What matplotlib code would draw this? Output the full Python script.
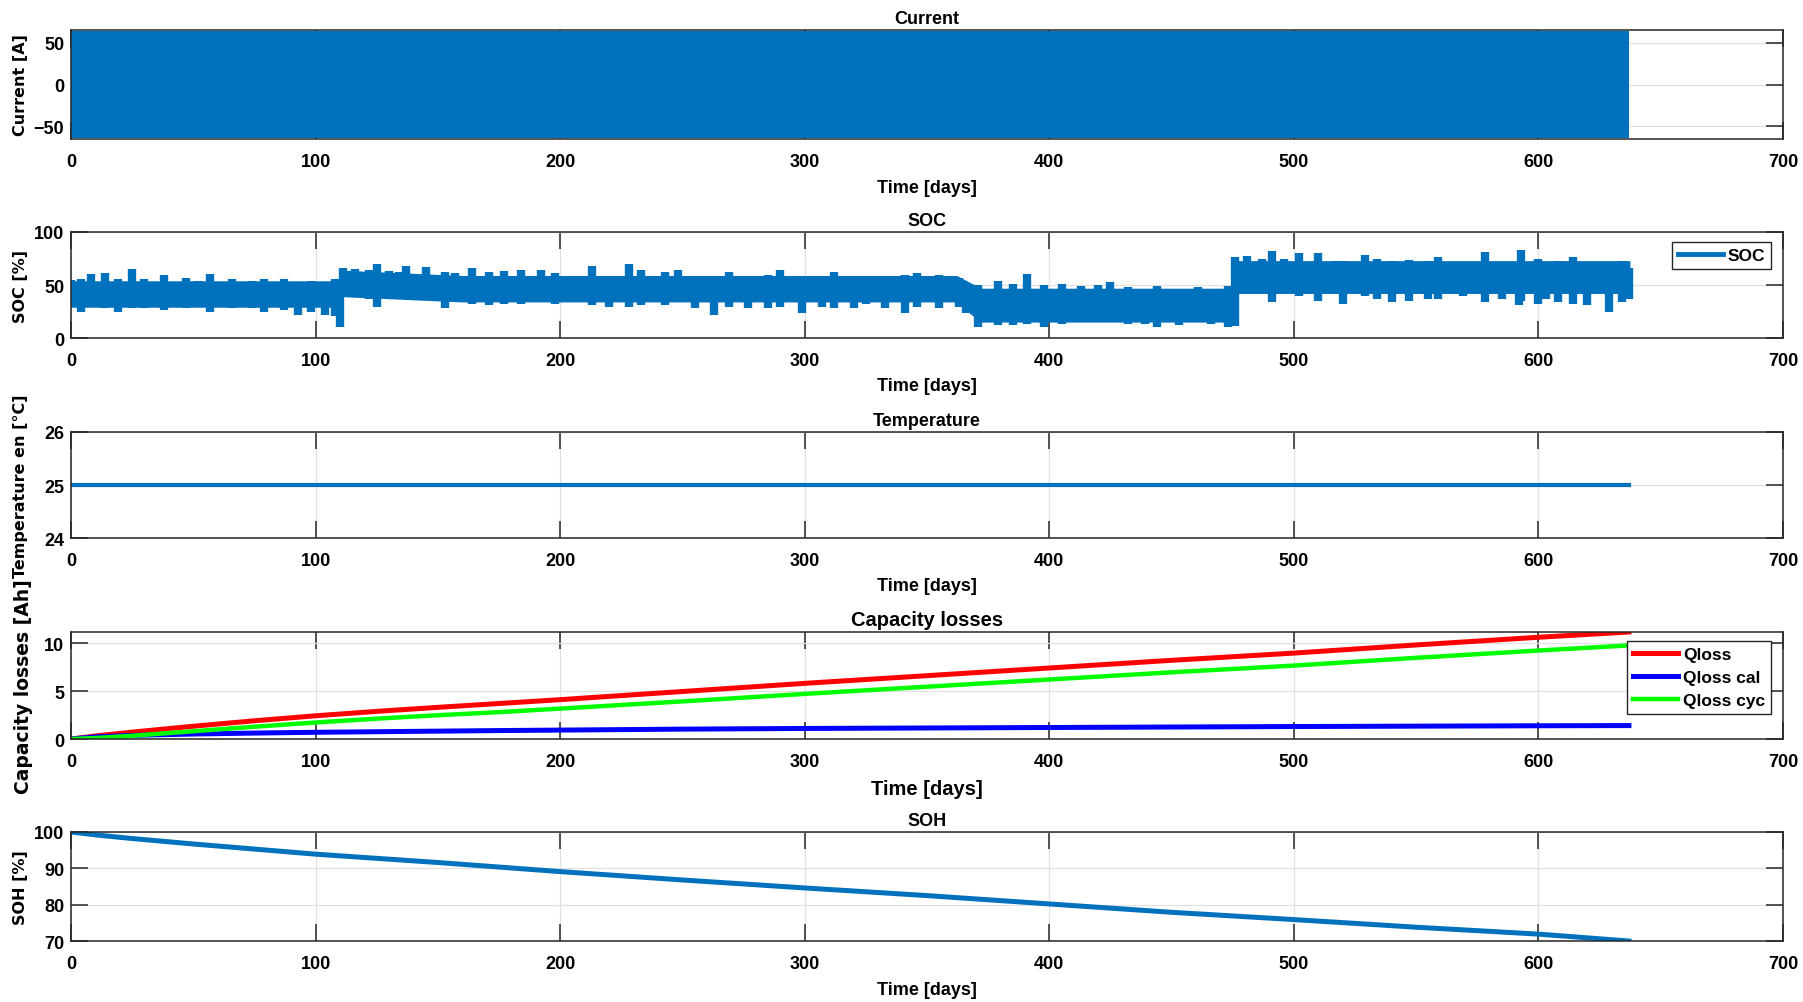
"""Battery ageing simulation: current, SOC, temperature, capacity losses and SOH."""
import matplotlib
matplotlib.use("Agg")
import matplotlib.pyplot as plt
from matplotlib.lines import Line2D

BLUE = "#0072BD"
DARK = "#262626"
GRID = "#e0e0e0"
TICK_FONT = "Liberation Sans"
LABEL_FONT = "DejaVu Sans"

# ── Data ─────────────────────────────────────────────────────────────
cur_days = [0, 637]
cur_max = [64, 64]
cur_min = [-64, -64]

# SOC: the typical band ("body") per regime, and the extremes at sampled days
soc_body_days = [0, 110, 110.6, 160, 362, 372, 475.5, 476, 637]
soc_body_top = [53, 53, 63, 58, 58, 46, 46, 72, 72]
soc_body_bot = [30, 30, 40, 35, 35, 16, 16, 43, 43]

soc_days = [0, 4, 8, 14, 19, 25, 30, 38, 47, 52, 57, 66, 74, 79, 87, 93, 98, 104, 108,
            110, 111, 116, 122, 125, 130, 134, 137, 145, 153, 157, 164, 171, 177, 184,
            192, 198, 206, 213, 220, 228, 233, 243, 248, 255, 263, 269, 277, 285, 290,
            299, 307, 312, 320, 325, 333, 341, 346, 355, 363, 366, 371, 379, 385, 391,
            398, 405, 413, 420, 425, 432, 439, 444, 453, 461, 466, 473, 476, 481, 487,
            491, 496, 502, 510, 517, 520, 529, 534, 540, 547, 555, 559, 569, 578, 585,
            592, 593, 600, 603, 608, 614, 620, 629, 634, 637]
soc_upper = [55, 56, 60, 61, 56, 65, 56, 59, 57, 54, 60, 56, 54, 56, 56, 53, 54, 51, 56,
             51, 66, 65, 64, 70, 63, 62, 68, 67, 62, 61, 66, 62, 63, 64,
             64, 61, 58, 68, 57, 70, 64, 62, 64, 57, 56, 62, 57, 59, 64,
             57, 57, 62, 57, 56, 57, 59, 61, 59, 57, 50, 50, 54, 51, 60,
             50, 51, 49, 50, 53, 48, 46, 49, 46, 48, 46, 49, 76, 77, 75,
             82, 75, 80, 80, 73, 73, 78, 75, 73, 74, 73, 76, 72, 81, 67,
             70, 83, 75, 65, 73, 76, 69, 67, 73, 66]
soc_lower = [37, 25, 29, 28, 25, 28, 28, 26, 28, 29, 25, 28, 28, 25, 26, 22, 25, 22, 21,
             10, 40, 39, 37, 29, 38, 37, 39, 37, 28, 37, 32, 31, 32, 32,
             34, 32, 34, 31, 29, 29, 31, 31, 34, 28, 22, 29, 28, 28, 29,
             24, 29, 28, 28, 32, 28, 24, 29, 28, 29, 24, 10, 12, 12, 13,
             10, 13, 15, 15, 17, 13, 13, 10, 12, 15, 13, 10, 11, 43, 43,
             34, 42, 40, 35, 43, 32, 40, 37, 34, 35, 37, 37, 40, 34, 37,
             31, 35, 32, 37, 34, 32, 31, 25, 34, 37]

temp_days = [0, 637]
temp = [25, 25]

cap_days = [0, 10, 25, 50, 75, 100, 125, 150, 175, 200, 250, 300, 350, 400, 450, 500,
            550, 600, 637]
qloss = [0, 0.32, 0.72, 1.33, 1.9, 2.42, 2.88, 3.3, 3.7, 4.1, 4.95, 5.8, 6.6, 7.4, 8.2,
         8.95, 9.8, 10.6, 11.15]
qloss_cal = [0, 0.22, 0.38, 0.52, 0.62, 0.7, 0.76, 0.82, 0.88, 0.93, 1.03, 1.1, 1.15, 1.2,
             1.25, 1.3, 1.34, 1.38, 1.4]
qloss_cyc = [0, 0.1, 0.34, 0.81, 1.28, 1.72, 2.12, 2.48, 2.8, 3.17, 3.92, 4.7, 5.45,
             6.2, 6.95, 7.65, 8.46, 9.22, 9.75]

soh_days = [0, 10, 25, 50, 100, 150, 200, 250, 300, 350, 400, 450, 500, 550, 600, 637]
soh = [100, 99.2, 98.2, 96.7, 93.9, 91.6, 89.1, 86.8, 84.6, 82.5, 80.2, 77.9, 75.9, 73.8, 71.9, 70.0]

x_ticks = [0, 100, 200, 300, 400, 500, 600, 700]


def style_axes(ax, title, ylabel, yticks, ylim, big=False):
    ax.set_xlim(0, 700)
    ax.set_ylim(*ylim)
    ax.set_xticks(x_ticks)
    ax.set_yticks(yticks)
    ax.set_axisbelow(True)
    ax.grid(True, color=GRID, linewidth=0.9)
    ax.tick_params(direction="in", length=12, width=1.1, color=DARK,
                   top=True, right=True, labelsize=13, pad=10)
    ax.tick_params(axis="y", pad=5)
    for lab in ax.get_xticklabels() + ax.get_yticklabels():
        lab.set_fontfamily(TICK_FONT)
        lab.set_fontweight("bold")
        lab.set_color("black")
    for sp in ax.spines.values():
        sp.set_color(DARK)
        sp.set_linewidth(1.1)
    tsize = 14.5 if big else 13
    ax.set_title(title, fontsize=tsize, fontweight="bold", family=TICK_FONT, pad=5)
    ax.set_xlabel("Time [days]", fontsize=tsize, fontweight="bold", family=TICK_FONT)
    ax.xaxis.set_label_coords(0.5, -0.37)
    # y label anchor is its right edge on screen
    ax.set_ylabel(ylabel, fontsize=13.5 if big else 11.5, fontweight="bold", family=LABEL_FONT)
    ax.yaxis.set_label_coords(-0.022 if big else -0.025, 0.5)


def leg_style():
    return dict(loc="upper right", borderaxespad=0, handlelength=2.6, handletextpad=0.25,
                borderpad=0.35, labelspacing=0.45, fancybox=False, edgecolor=DARK,
                framealpha=1, prop={"family": TICK_FONT, "weight": "bold", "size": 12.5})


def main():
    fig = plt.figure(figsize=(18.03, 10.03), dpi=100)
    left, width = 0.0394, 0.9495
    ax_cur = fig.add_axes([left, 0.8604, width, 0.1087])
    ax_soc = fig.add_axes([left, 0.6620, width, 0.1057])
    ax_tmp = fig.add_axes([left, 0.4626, width, 0.1057])
    ax_cap = fig.add_axes([left, 0.2622, width, 0.1067])
    ax_soh = fig.add_axes([left, 0.0608, width, 0.1087])

    # Current: the signal switches so fast it reads as a solid band
    ax_cur.fill_between(cur_days, cur_min, cur_max, color=BLUE, linewidth=0)
    style_axes(ax_cur, "Current", "Current [A]", [-50, 0, 50], (-65, 65))

    # SOC: solid body plus the spikes that stick out of it
    ax_soc.fill_between(soc_body_days, soc_body_bot, soc_body_top, color=BLUE, linewidth=1.5,
                        edgecolor=BLUE)
    ax_soc.vlines(soc_days, soc_lower, soc_upper, color=BLUE, linewidth=6)
    style_axes(ax_soc, "SOC", "SOC [%]", [0, 50, 100], (0, 100))
    soc_handle = Line2D([], [], color=BLUE, linewidth=3.5)
    leg = ax_soc.legend([soc_handle], ["SOC"], bbox_to_anchor=(0.993, 0.905), **leg_style())
    leg.get_frame().set_linewidth(1.0)

    ax_tmp.plot(temp_days, temp, color=BLUE, linewidth=3)
    style_axes(ax_tmp, "Temperature", "Temperature en [°C]", [24, 25, 26], (24, 26))

    ax_cap.plot(cap_days, qloss, color="#ff0000", linewidth=3.6, label="Qloss")
    ax_cap.plot(cap_days, qloss_cal, color="#0000ff", linewidth=3.6, label="Qloss cal")
    ax_cap.plot(cap_days, qloss_cyc, color="#00ff00", linewidth=3.2, label="Qloss cyc")
    style_axes(ax_cap, "Capacity losses", "Capacity losses [Ah]", [0, 5, 10], (0, 11.15), big=True)
    leg = ax_cap.legend(bbox_to_anchor=(0.993, 0.916), **leg_style())
    leg.get_frame().set_linewidth(1.0)

    ax_soh.plot(soh_days, soh, color=BLUE, linewidth=3.6)
    style_axes(ax_soh, "SOH", "SOH [%]", [70, 80, 90, 100], (70, 100))

    fig.savefig("out.png", dpi=100)
    plt.close(fig)


if __name__ == "__main__":
    main()
